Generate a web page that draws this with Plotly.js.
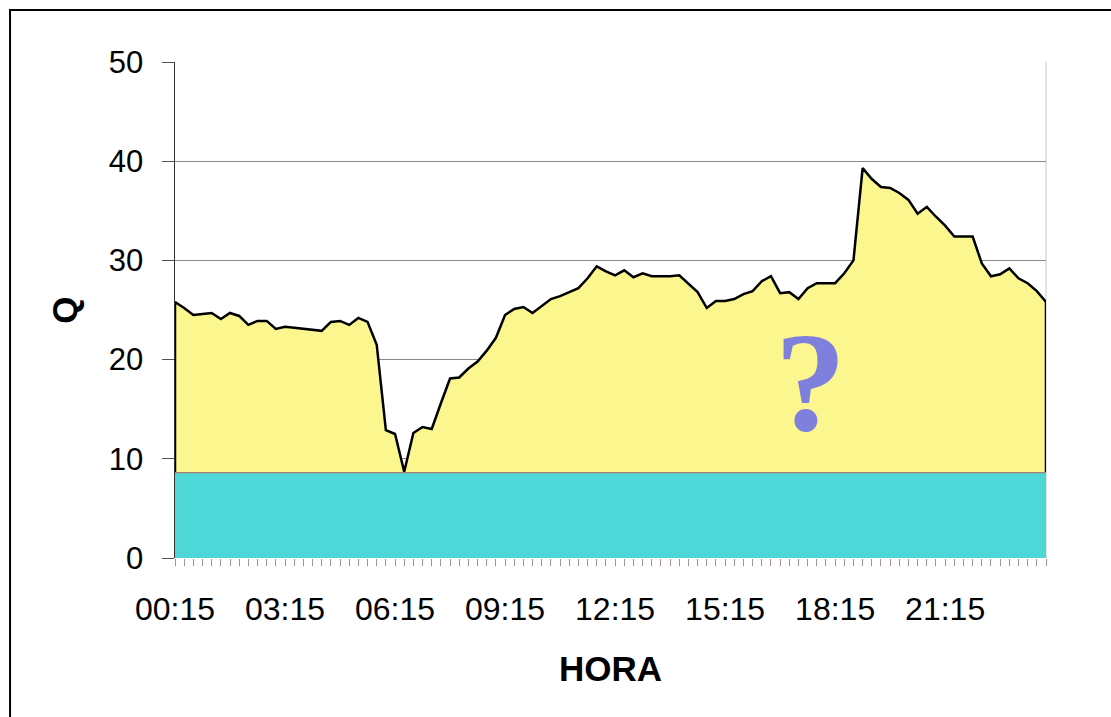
<!DOCTYPE html>
<html>
<head>
<meta charset="utf-8">
<script src="https://cdn.plot.ly/plotly-3.0.1.min.js"></script>
<style>
  html, body { margin: 0; padding: 0; background: #ffffff; }
  #chart { width: 1111px; height: 717px; }
</style>
</head>
<body>
<div id="chart"></div>
<script>
// 15-minute intervals from 00:15 to 24:00
const horas = [
  "00:15","00:30","00:45","01:00","01:15","01:30","01:45","02:00",
  "02:15","02:30","02:45","03:00","03:15","03:30","03:45","04:00",
  "04:15","04:30","04:45","05:00","05:15","05:30","05:45","06:00",
  "06:15","06:30","06:45","07:00","07:15","07:30","07:45","08:00",
  "08:15","08:30","08:45","09:00","09:15","09:30","09:45","10:00",
  "10:15","10:30","10:45","11:00","11:15","11:30","11:45","12:00",
  "12:15","12:30","12:45","13:00","13:15","13:30","13:45","14:00",
  "14:15","14:30","14:45","15:00","15:15","15:30","15:45","16:00",
  "16:15","16:30","16:45","17:00","17:15","17:30","17:45","18:00",
  "18:15","18:30","18:45","19:00","19:15","19:30","19:45","20:00",
  "20:15","20:30","20:45","21:00","21:15","21:30","21:45","22:00",
  "22:15","22:30","22:45","23:00","23:15","23:30","23:45","24:00"
];

// Flow Q
const caudal = [
  25.8, 25.2, 24.5, 24.6, 24.7, 24.1, 24.7, 24.4,
  23.5, 23.9, 23.9, 23.1, 23.3, 23.2, 23.1, 23.0,
  22.9, 23.8, 23.9, 23.5, 24.2, 23.8, 21.5, 12.9,
  12.5, 8.7, 12.6, 13.2, 13.0, 15.6, 18.1, 18.2,
  19.1, 19.8, 20.9, 22.2, 24.5, 25.1, 25.3, 24.7,
  25.4, 26.1, 26.4, 26.8, 27.2, 28.2, 29.4, 28.9,
  28.5, 29.0, 28.3, 28.7, 28.4, 28.4, 28.4, 28.5,
  27.6, 26.8, 25.2, 25.9, 25.9, 26.1, 26.6, 26.9,
  27.9, 28.4, 26.7, 26.8, 26.1, 27.2, 27.7, 27.7,
  27.7, 28.7, 30.0, 39.3, 38.2, 37.4, 37.3, 36.8,
  36.1, 34.7, 35.4, 34.4, 33.5, 32.4, 32.4, 32.4,
  29.7, 28.4, 28.6, 29.2, 28.2, 27.7, 26.9, 25.8
];

// Constant base level (cyan band)
const nivelBase = horas.map(() => 8.6);

// Labelled ticks every 3 hours
const etiquetas = horas.map((h, i) => (i % 12 === 0 ? h : ""));
const yTicks = [0, 10, 20, 30, 40, 50];

const font = "Liberation Sans, Arial, sans-serif";

// Yellow area as a closed polygon (Excel-style area edges)
const xArea = [horas[0]].concat(horas, [horas[horas.length - 1]]);
const yArea = [0].concat(caudal, [0]);

const traces = [
  {
    type: "scatter",
    mode: "lines",
    x: xArea,
    y: yArea,
    fill: "toself",
    fillcolor: "#FBF78E",
    line: { color: "#000000", width: 2.5 },
    hoverinfo: "skip"
  },
  {
    type: "scatter",
    mode: "lines",
    x: horas,
    y: nivelBase,
    fill: "tozeroy",
    fillcolor: "#4ED7D7",
    line: { color: "#A88070", width: 1.2 },
    hoverinfo: "skip"
  }
];

const layout = {
  width: 1111,
  height: 717,
  margin: { l: 175, r: 65, t: 62, b: 159 },
  paper_bgcolor: "#ffffff",
  plot_bgcolor: "#ffffff",
  showlegend: false,
  font: { family: font, color: "#000000" },
  xaxis: {
    type: "category",
    categoryorder: "array",
    categoryarray: horas,
    range: [0, horas.length - 1],
    tickmode: "array",
    tickvals: horas,
    ticktext: etiquetas,
    ticks: "outside",
    ticklen: 7,
    tickwidth: 1,
    tickcolor: "#A89090",
    ticklabelstandoff: 16,
    tickfont: { family: font, size: 32, color: "#000000" },
    showgrid: false,
    zeroline: false,
    showline: false,
    title: {
      text: "<b>HORA</b>",
      font: { family: font, size: 35, color: "#000000" },
      standoff: 30
    }
  },
  yaxis: {
    range: [0, 50],
    tickmode: "array",
    tickvals: yTicks,
    ticks: "outside",
    ticklen: 12,
    tickwidth: 1,
    tickcolor: "#555555",
    ticklabelstandoff: 12,
    tickfont: { family: font, size: 31, color: "#000000" },
    showgrid: true,
    gridcolor: "#8A8A8A",
    gridwidth: 1,
    zeroline: false,
    showline: true,
    linecolor: "#333333",
    linewidth: 1.5,
    title: {
      text: "<b>Q</b>",
      font: { family: font, size: 35, color: "#000000" },
      standoff: 20
    }
  },
  annotations: [
    {
      xref: "paper",
      yref: "paper",
      x: 0.7725,
      y: 0.355,
      text: "<b>?</b>",
      showarrow: false,
      font: { family: "Liberation Serif, Times New Roman, serif", size: 142, color: "#7F80DD" }
    }
  ],
  shapes: [
    // plot-area right edge
    {
      type: "line", xref: "paper", yref: "paper",
      x0: 1, x1: 1, y0: 0, y1: 1,
      line: { color: "#C8C8C8", width: 1 }, layer: "below"
    },
    // outer frame (left and top edges visible)
    {
      type: "path", xref: "paper", yref: "paper",
      path: "M -0.1894,-0.33 L -0.1894,1.1048 L 1.08,1.1048",
      line: { color: "#000000", width: 2 }
    }
  ]
};

Plotly.newPlot("chart", traces, layout, { displayModeBar: false, staticPlot: true });
</script>
</body>
</html>
